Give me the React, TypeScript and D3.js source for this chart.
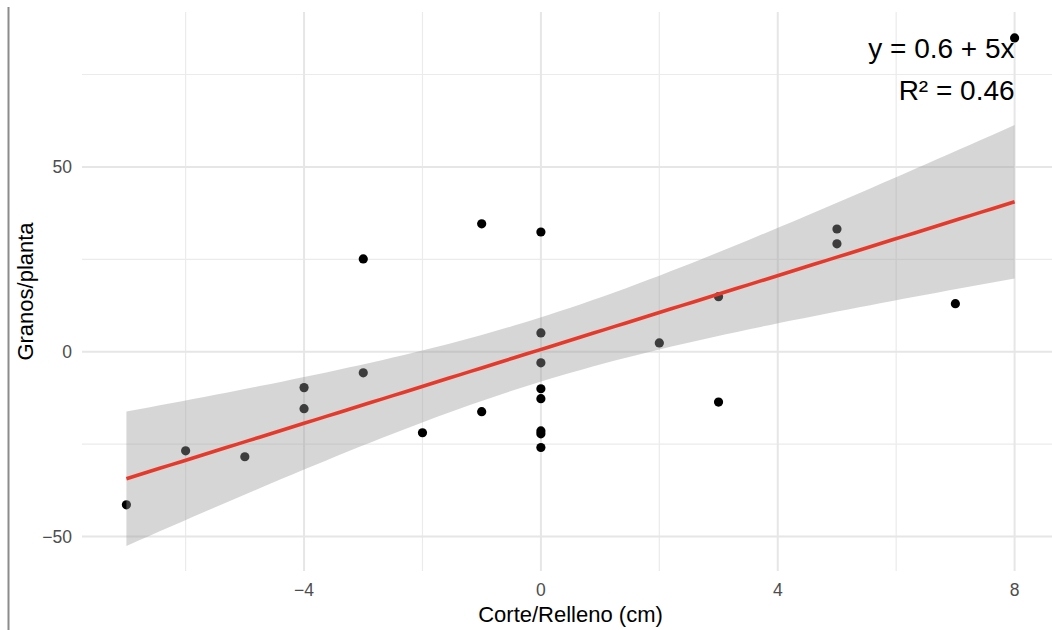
import React from 'react'
import * as d3 from 'd3'

// corte/relleno (cm) vs granos/planta
const corte = [-7, -6, -5, -4, -4, -3, -3, -2, -1, -1, 0, 0, 0, 0, 0, 0, 0, 0, 2, 3, 3, 5, 5, 7, 8]
const granos = [
  -41.4, -26.8, -28.4, -9.7, -15.4, 25.1, -5.7, -21.9, 34.6, -16.2,
  32.4, 5.1, -3.0, -10.0, -12.7, -21.4, -22.2, -25.9,
  2.4, 14.9, -13.6, 33.2, 29.2, 13.0, 84.9
]

const xTicks = [-4, 0, 4, 8]
const xMinor = [-6, -2, 2, 6]
const yTicks = [-50, 0, 50]
const yMinor = [-25, 25, 75]
const xDomain = [-7.75, 8.75]
const yDomain = [-59.3, 91.9]
const eqLabel = 'y = 0.6 + 5x'
const r2Label = 'R² = 0.46'
const tCrit = 2.069 // t(0.975, df = 23)

const width = 1052
const height = 630
const margin = { top: 12, right: -7, bottom: 59, left: 82 }
const font = '"Liberation Sans", Arial, Helvetica, sans-serif'

export default function App() {
  const x = d3.scaleLinear().domain(xDomain).range([margin.left, width - margin.right])
  const y = d3.scaleLinear().domain(yDomain).range([height - margin.bottom, margin.top])

  // linear fit + 95% confidence band
  const n = corte.length
  const mx = d3.mean(corte) as number
  const my = d3.mean(granos) as number
  const sxx = d3.sum(corte, (v) => (v - mx) ** 2)
  const sxy = d3.sum(corte, (v, i) => (v - mx) * (granos[i] - my))
  const b = sxy / sxx
  const a = my - b * mx
  const sse = d3.sum(corte, (v, i) => (granos[i] - a - b * v) ** 2)
  const s = Math.sqrt(sse / (n - 2))
  const [x0, x1] = d3.extent(corte) as [number, number]
  const grid = d3.range(0, 81).map((i) => x0 + ((x1 - x0) * i) / 80)
  const band = grid.map((v) => {
    const fit = a + b * v
    const hw = tCrit * s * Math.sqrt(1 / n + (v - mx) ** 2 / sxx)
    return { x: v, fit, lo: fit - hw, hi: fit + hw }
  })

  const area = d3.area<any>().x((d) => x(d.x)).y0((d) => y(d.lo)).y1((d) => y(d.hi))
  const line = d3.line<any>().x((d) => x(d.x)).y((d) => y(d.fit))

  const top = margin.top
  const bottom = height - margin.bottom
  const left = margin.left
  const right = width - margin.right

  return (
    <svg
      width={width}
      height={height}
      style={{ position: 'absolute', left: 0, top: 0, background: '#fff' }}
      fontFamily={font}
    >
      <rect width={width} height={height} fill="#fff" />
      {/* grid */}
      {xMinor.map((t) => (
        <line key={'xm' + t} x1={x(t)} x2={x(t)} y1={top} y2={bottom} stroke="#EBEBEB" strokeWidth={1.2} />
      ))}
      {yMinor.map((t) => (
        <line key={'ym' + t} x1={left} x2={right} y1={y(t)} y2={y(t)} stroke="#EBEBEB" strokeWidth={1.2} />
      ))}
      {xTicks.map((t) => (
        <line key={'xg' + t} x1={x(t)} x2={x(t)} y1={top} y2={bottom} stroke="#E6E6E6" strokeWidth={2} />
      ))}
      {yTicks.map((t) => (
        <line key={'yg' + t} x1={left} x2={right} y1={y(t)} y2={y(t)} stroke="#E6E6E6" strokeWidth={2} />
      ))}

      {/* points, then band over them */}
      {corte.map((v, i) => (
        <circle key={'p' + i} cx={x(v)} cy={y(granos[i])} r={4.6} fill="#000" />
      ))}
      <path d={area(band) as string} fill="#999999" fillOpacity={0.4} />
      <path d={line(band) as string} fill="none" stroke="#E53A2B" strokeWidth={3.6} />

      {/* annotation */}
      <text x={x(8)} y={58} textAnchor="end" fontSize={28} fill="#000">{eqLabel}</text>
      <text x={x(8)} y={100} textAnchor="end" fontSize={28} fill="#000">{r2Label}</text>

      {/* axes text */}
      {xTicks.map((t) => (
        <text key={'xt' + t} x={x(t)} y={596} textAnchor="middle" fontSize={17.5} fill="#4D4D4D">
          {t < 0 ? '\u2212' + Math.abs(t) : t}
        </text>
      ))}
      {yTicks.map((t) => (
        <text key={'yt' + t} x={72} y={y(t)} dy="0.35em" textAnchor="end" fontSize={17.5} fill="#4D4D4D">
          {t < 0 ? '\u2212' + Math.abs(t) : t}
        </text>
      ))}
      <text x={(left + right) / 2} y={622} textAnchor="middle" fontSize={22} fill="#000">
        Corte/Relleno (cm)
      </text>
      <text
        transform={`translate(33,${(top + bottom) / 2}) rotate(-90)`}
        textAnchor="middle"
        fontSize={22}
        fill="#000"
      >
        Granos/planta
      </text>

      {/* left border line */}
      <line x1={8.5} x2={8.5} y1={7} y2={height} stroke="#8C8C8C" strokeWidth={2} />
    </svg>
  )
}
